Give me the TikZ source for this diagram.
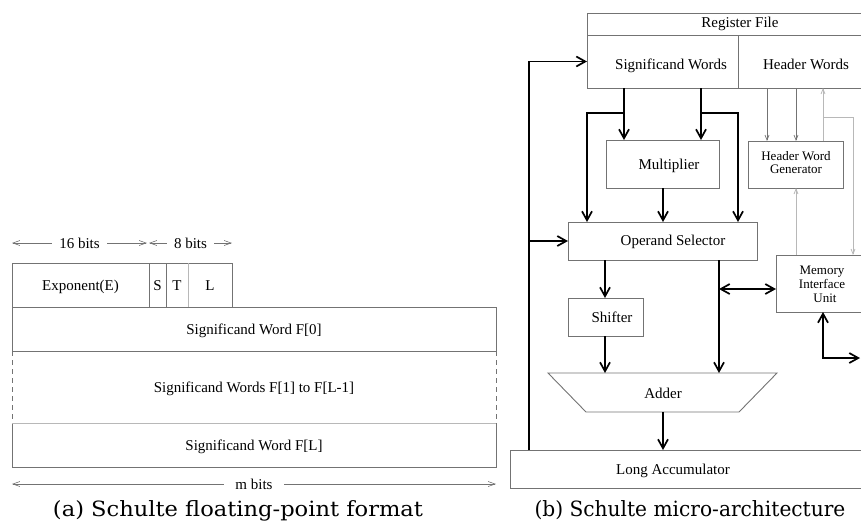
\documentclass[tikz,border=0pt]{standalone}
\usepackage{fontspec}
\newfontfamily\diag{Liberation Serif}
\newfontfamily\capfont{DejaVu Serif}
\usetikzlibrary{arrows.meta,calc}
\definecolor{boxgray}{gray}{0.45}
\definecolor{lightline}{gray}{0.72}
\begin{document}
\begin{tikzpicture}[x=1pt,y=-1pt,
  box/.style={draw=boxgray,line width=0.9pt,inner sep=0pt,outer sep=0pt,anchor=north west,
    font=\diag\fontsize{15}{17}\selectfont,text height=10pt,text depth=0pt},
  lbl/.style={font=\diag\fontsize{15}{17}\selectfont,inner sep=0pt,text height=10pt,text depth=0pt},
  slbl/.style={font=\diag\fontsize{13}{14}\selectfont,inner sep=0pt,text height=8.6pt,text depth=0pt},
  dimlbl/.style={font=\diag\fontsize{15}{17}\selectfont,inner sep=0pt,inner xsep=7pt,fill=white,text height=10pt,text depth=0pt},
  dim/.style={draw=boxgray,line width=0.6pt,{Straight Barb[length=7pt,width=5pt]}-{Straight Barb[length=7pt,width=5pt]}},
  thk/.style={draw=black,line width=1.7pt,-{Straight Barb[length=9pt,width=10pt]}},
  thkb/.style={draw=black,line width=1.7pt,{Straight Barb[length=9pt,width=10pt]}-{Straight Barb[length=9pt,width=10pt]}},
  thn/.style={draw=boxgray,line width=0.7pt,-{Straight Barb[length=5pt,width=4pt]}},
  thnl/.style={draw=lightline,line width=0.8pt,-{Straight Barb[length=5pt,width=4pt]}},
  captxt/.style={font=\capfont\fontsize{21}{24}\selectfont,inner sep=0pt,anchor=base}
]
\useasboundingbox (0,0) rectangle (861,528);

% ---------------- (a) format ----------------
\coordinate (d0) at (12,243);
\coordinate (d1a) at (147,243);
\coordinate (d1b) at (149,243);
\coordinate (d2) at (232,243);
\draw[dim] (d0) -- node[dimlbl] (l16) {16 bits} (d1a);
\draw[dim] (d1b) -- node[dimlbl] (l8) {8 bits} (d2);

\node[box,minimum width=137pt,minimum height=44pt] (expo) at (12,263) {Exponent(E)};
\node[box,minimum width=17pt,minimum height=44pt] (sf) at (149,263) {S};
\node[box,minimum width=22pt,minimum height=44pt] (tf) at (166,263) {T};
\node[box,minimum width=44pt,minimum height=44pt] (lf) at (188,263) {L};
\draw[lightline,line width=0.9pt] (lf.north west) -- (lf.south west);

\node[box,minimum width=484pt,minimum height=44pt] (f0) at (12,307) {Significand Word F[0]};
\node[box,draw=none,minimum width=484pt,minimum height=72pt] (fmid) at (12,351) {Significand Words F[1] to F[L-1]};
\draw[boxgray,line width=0.9pt,dashed,dash pattern=on 5pt off 4pt] (fmid.north west) -- (fmid.south west);
\draw[boxgray,line width=0.9pt,dashed,dash pattern=on 5pt off 4pt] (fmid.north east) -- (fmid.south east);
\node[box,minimum width=484pt,minimum height=44pt] (fl) at (12,423) {Significand Word F[L]};
\draw[lightline,line width=0.9pt] (fl.north west) -- (fl.north east);

\coordinate (m0) at (12,484);
\coordinate (m1) at (496,484);
\draw[dim] (m0) -- node[dimlbl,inner xsep=11pt] (lm) {m bits} (m1);

\node[captxt] (capa) at (238,516) {\scalebox{1.075}[1]{(a) Schulte floating-point format}};

% ---------------- (b) micro-architecture ----------------
\node[box,minimum width=330pt,minimum height=22pt] (rf) at (587,13) {};
\node[box,minimum width=151pt,minimum height=53pt] (sw) at (587,35) {};
\node[box,minimum width=180pt,minimum height=53pt] (hw) at (738,35) {};
\node[lbl] (rft) at (740,22) {Register File};
\node[lbl] (swt) at (671,64.5) {Significand Words};
\node[lbl] (hwt) at (806,64.5) {Header Words};

\node[box,minimum width=113pt,minimum height=48pt] (mult) at (606,140) {};
\node[lbl] (multt) at (669,164) {Multiplier};

\node[box,minimum width=189pt,minimum height=38pt] (opsel) at (568,222) {};
\node[lbl] (opselt) at (673,240) {Operand Selector};

\node[box,minimum width=75pt,minimum height=38pt] (shift) at (568,298) {};
\node[lbl] (shiftt) at (612,317) {Shifter};

\node[box,draw=none,minimum width=229pt,minimum height=39pt] (adder) at (548,373) {};
\draw[boxgray,line width=0.9pt] (adder.north west) -- (adder.north east)
  -- ([xshift=-38pt]adder.south east) -- ([xshift=38pt]adder.south west) -- cycle;
\node[lbl] (addert) at (663,393) {Adder};

\node[box,minimum width=400pt,minimum height=38pt] (lacc) at (510,450) {};
\node[lbl] (lacct) at (673,469) {Long Accumulator};

\node[box,minimum width=95pt,minimum height=47pt] (hwg) at (748,141) {};
\node[slbl] (hwgt1) at (796,156.5) {Header Word};
\node[slbl] (hwgt2) at (796,169.5) {Generator};

\node[box,minimum width=140pt,minimum height=57pt] (miu) at (776,255) {};
\node[slbl] (miut1) at (822,270.5) {Memory};
\node[slbl] (miut2) at (822,284.5) {Interface};
\node[slbl] (miut3) at (825,298.5) {Unit};

% column / row helper coordinates
\coordinate (xfb) at (529,0);
\coordinate (xa) at (624,0);
\coordinate (xb) at (701,0);
\coordinate (xl) at (587,0);
\coordinate (xr) at (738,0);
\coordinate (xm) at (663,0);
\coordinate (xs) at (605,0);
\coordinate (xt) at (719,0);
\coordinate (yb) at (0,113);
\coordinate (ybd) at (0,289);
\coordinate (h1) at (767,0);
\coordinate (h2) at (796,0);
\coordinate (h3) at (823,0);
\coordinate (h4) at (853,0);
\coordinate (yh) at (0,117);
\coordinate (out) at (860,358);

% thick data paths
\draw[thk] (lacc.north -| xfb) |- (sw.west);
\draw[thk] (lacc.north -| xfb) |- (opsel.west);
\draw[thk] (sw.south -| xa) -- (mult.north -| xa);
\draw[thk] (sw.south -| xb) -- (mult.north -| xb);
\draw[thk] (xa |- yb) -| (opsel.north -| xl);
\draw[thk] (xb |- yb) -| (opsel.north -| xr);
\draw[thk] (mult.south -| xm) -- (opsel.north -| xm);
\draw[thk] (opsel.south -| xs) -- (shift.north -| xs);
\draw[thk] (shift.south -| xs) -- (adder.north -| xs);
\draw[thk] (opsel.south -| xt) -- (adder.north -| xt);
\draw[thkb] (xt |- ybd) -- (miu.west |- ybd);
\draw[thk] (adder.south -| xm) -- (lacc.north -| xm);
\draw[thkb] (miu.south -| h3) |- (out);

% thin header paths
\draw[thn] (hw.south -| h1) -- (hwg.north -| h1);
\draw[thn] (hw.south -| h2) -- (hwg.north -| h2);
\draw[thnl] (hwg.north -| h3) -- (hw.south -| h3);
\draw[thnl] (h3 |- yh) -| (miu.north -| h4);
\draw[thnl] (miu.north -| h2) -- (hwg.south -| h2);

\node[captxt] (capb) at (690,516) {\scalebox{0.96}[1]{(b) Schulte micro-architecture}};
\end{tikzpicture}
\end{document}
